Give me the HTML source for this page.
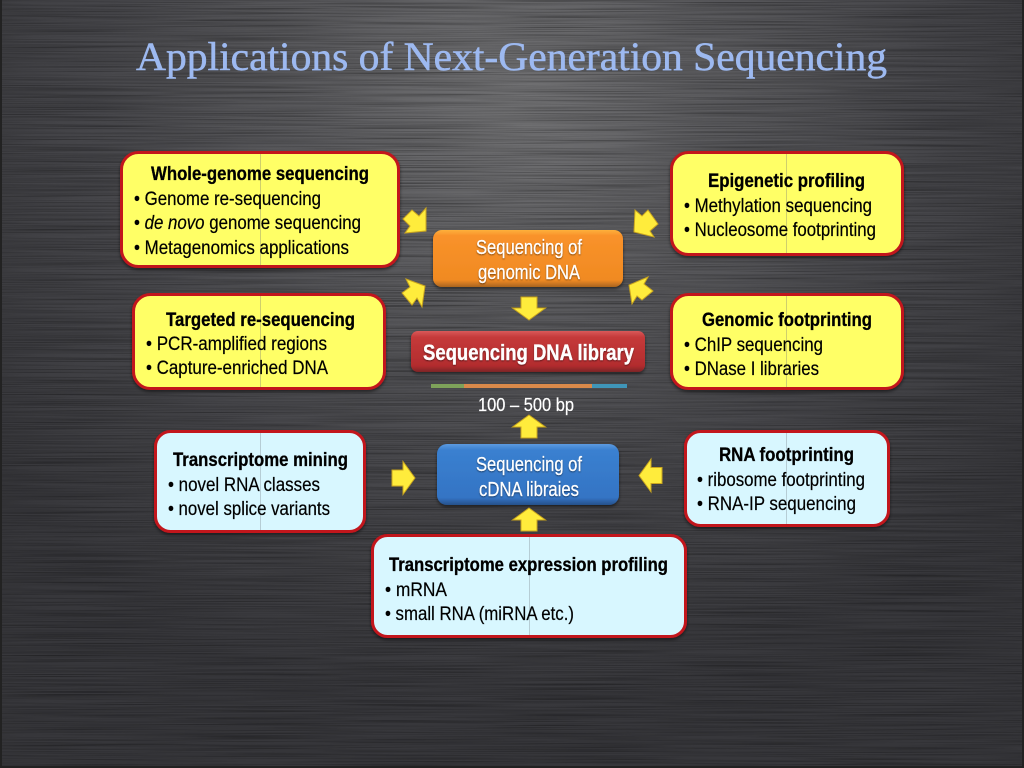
<!DOCTYPE html>
<html lang="en"><head><meta charset="utf-8"><title>Applications of Next-Generation Sequencing</title>
<style>html,body{margin:0;padding:0;background:#333}svg{display:block}
text{font-family:"Liberation Sans",sans-serif;fill:#000;font-size:19px;stroke:#000;stroke-width:.2}
.h{font-weight:bold;stroke-width:.3}
.w{fill:#fff;stroke:#fff;font-size:20px;filter:url(#ts)}
</style></head><body>
<svg xmlns="http://www.w3.org/2000/svg" width="1024" height="768" viewBox="0 0 1024 768">
<defs>
<radialGradient id="bg" gradientUnits="userSpaceOnUse" cx="512" cy="90" r="640" gradientTransform="translate(0 20) scale(1 .95)">
<stop offset="0" stop-color="#727274"/><stop offset=".3" stop-color="#5c5c5f"/><stop offset=".65" stop-color="#46464a"/><stop offset="1" stop-color="#37373b"/></radialGradient>
<filter id="streak" x="0" y="0" width="100%" height="100%"><feTurbulence type="fractalNoise" baseFrequency="0.006 1.1" numOctaves="2" seed="4"/><feColorMatrix values="0 0 0 0 0 0 0 0 0 0 0 0 0 0 0 2 0 0 0 -.8"/></filter>
<filter id="sh" x="-10%" y="-10%" width="120%" height="125%"><feDropShadow dx="0" dy="2" stdDeviation="1.5" flood-color="#000" flood-opacity=".5"/></filter>
<filter id="ts" x="-5%" y="-20%" width="110%" height="140%"><feDropShadow dx="0" dy="1" stdDeviation=".8" flood-color="#000" flood-opacity=".5"/></filter>
<linearGradient id="or" x1="0" y1="0" x2="0" y2="1"><stop offset="0" stop-color="#fdb03c"/><stop offset=".1" stop-color="#f9922a"/><stop offset=".88" stop-color="#f08a22"/><stop offset="1" stop-color="#a9641f"/></linearGradient>
<linearGradient id="rd" x1="0" y1="0" x2="0" y2="1"><stop offset="0" stop-color="#d9595a"/><stop offset=".15" stop-color="#c53a3a"/><stop offset=".85" stop-color="#b22c2e"/><stop offset="1" stop-color="#7c2527"/></linearGradient>
<linearGradient id="bl" x1="0" y1="0" x2="0" y2="1"><stop offset="0" stop-color="#5c9ae0"/><stop offset=".1" stop-color="#3a80d0"/><stop offset=".88" stop-color="#3474c4"/><stop offset="1" stop-color="#26508a"/></linearGradient>
<polygon id="a" points="0,-12 16.500,0 8,0 8,11 -8,11 -8,0 -16.500,0" fill="#ffec3c" stroke="#c9a51f" stroke-width="1"/>
</defs>

<rect width="1024" height="768" fill="url(#bg)"/>
<rect width="1024" height="768" filter="url(#streak)" opacity=".4"/>
<rect x="0" y="0" width="2" height="768" fill="#222"/><rect x="1022" y="0" width="2" height="768" fill="#222"/><rect x="0" y="766" width="1024" height="2" fill="#222"/>

<text x="136" y="70" textLength="751" lengthAdjust="spacingAndGlyphs" style="font-family:'Liberation Serif',serif;font-size:40px;fill:#9db9f0;stroke:#9db9f0;stroke-width:.5">Applications of Next-Generation Sequencing</text>

<!-- yellow boxes -->
<g fill="#ffff66" stroke="#c2141d" stroke-width="3" filter="url(#sh)">
<rect x="121.500" y="152.500" width="277" height="114" rx="17"/>
<rect x="133.500" y="294.500" width="251" height="94" rx="17"/>
<rect x="671.500" y="152.500" width="231" height="102" rx="17"/>
<rect x="671.500" y="294.500" width="231" height="94" rx="17"/>
</g>
<!-- light blue boxes -->
<g fill="#d8f7ff" stroke="#c2141d" stroke-width="3" filter="url(#sh)">
<rect x="155.500" y="431.500" width="209" height="100" rx="15"/>
<rect x="685.500" y="431.500" width="203" height="94" rx="15"/>
<rect x="372.500" y="535.500" width="313" height="101" rx="15"/>
</g>
<!-- faint seam lines -->
<g stroke="#b0b070" stroke-width="1" opacity=".6">
<line x1="260.500" y1="154" x2="260.500" y2="265"/><line x1="260.500" y1="296" x2="260.500" y2="387"/>
<line x1="786.500" y1="154" x2="786.500" y2="253"/><line x1="786.500" y1="296" x2="786.500" y2="387"/>
</g>
<g stroke="#a8bcc4" stroke-width="1" opacity=".7">
<line x1="260.500" y1="433" x2="260.500" y2="530"/><line x1="786.500" y1="433" x2="786.500" y2="524"/><line x1="529.500" y1="537" x2="529.500" y2="635"/>
</g>

<!-- center boxes -->
<rect x="433" y="230" width="190" height="57" rx="9" fill="url(#or)" filter="url(#sh)"/>
<rect x="411" y="331" width="234" height="41" rx="7" fill="url(#rd)" filter="url(#sh)"/>
<rect x="437" y="444" width="182" height="61" rx="10" fill="url(#bl)" filter="url(#sh)"/>
<rect x="431" y="384" width="33" height="4" fill="#7ea25a"/>
<rect x="464" y="384" width="128" height="4" fill="#d9894a"/>
<rect x="592" y="384" width="35" height="4" fill="#3f95b8"/>

<!-- arrows -->
<use href="#a" transform="translate(529 427)"/>
<use href="#a" transform="translate(529 520)"/>
<use href="#a" transform="translate(529 308) rotate(180)"/>
<use href="#a" transform="translate(403 478) rotate(90)"/>
<use href="#a" transform="translate(651 475.500) rotate(-90)"/>
<g fill="#ffec3c" stroke="#c9a51f" stroke-width="1">
<polygon points="426,208 426,231 405,233 410,226 403,219 412,210 419,216"/>
<polygon points="406,279 425,286 422,307 417,298 412,305 402,293 410,287"/>
<polygon points="635,210 642,216 648,210 658,224 650,231 654,237 634,232"/>
<polygon points="648,277 629,285 632,304 637,296 642,300 653,291 644,284"/>
</g>

<!-- box text -->
<text class="h" x="151" y="180" textLength="218" lengthAdjust="spacingAndGlyphs">Whole-genome sequencing</text>
<text x="134" y="205" textLength="187" lengthAdjust="spacingAndGlyphs">• Genome re-sequencing</text>
<text x="134" y="229" textLength="227" lengthAdjust="spacingAndGlyphs">• <tspan font-style="italic">de novo</tspan> genome sequencing</text>
<text x="134" y="254" textLength="215" lengthAdjust="spacingAndGlyphs">• Metagenomics applications</text>

<text class="h" x="166" y="326" textLength="189" lengthAdjust="spacingAndGlyphs">Targeted re-sequencing</text>
<text x="146" y="350" textLength="181" lengthAdjust="spacingAndGlyphs">• PCR-amplified regions</text>
<text x="146" y="374" textLength="182" lengthAdjust="spacingAndGlyphs">• Capture-enriched DNA</text>

<text class="h" x="708" y="187" textLength="157" lengthAdjust="spacingAndGlyphs">Epigenetic profiling</text>
<text x="684" y="212" textLength="188" lengthAdjust="spacingAndGlyphs">• Methylation sequencing</text>
<text x="684" y="236" textLength="192" lengthAdjust="spacingAndGlyphs">• Nucleosome footprinting</text>

<text class="h" x="702" y="326" textLength="170" lengthAdjust="spacingAndGlyphs">Genomic footprinting</text>
<text x="684" y="351" textLength="139" lengthAdjust="spacingAndGlyphs">• ChIP sequencing</text>
<text x="684" y="375" textLength="135" lengthAdjust="spacingAndGlyphs">• DNase I libraries</text>

<text class="h" x="173" y="466" textLength="175" lengthAdjust="spacingAndGlyphs">Transcriptome mining</text>
<text x="168" y="491" textLength="152" lengthAdjust="spacingAndGlyphs">• novel RNA classes</text>
<text x="168" y="515" textLength="162" lengthAdjust="spacingAndGlyphs">• novel splice variants</text>

<text class="h" x="719" y="461" textLength="135" lengthAdjust="spacingAndGlyphs">RNA footprinting</text>
<text x="697" y="486" textLength="168" lengthAdjust="spacingAndGlyphs">• ribosome footprinting</text>
<text x="697" y="510" textLength="159" lengthAdjust="spacingAndGlyphs">• RNA-IP sequencing</text>

<text class="h" x="389" y="571" textLength="279" lengthAdjust="spacingAndGlyphs">Transcriptome expression profiling</text>
<text x="385" y="596" textLength="62" lengthAdjust="spacingAndGlyphs">• mRNA</text>
<text x="385" y="620" textLength="189" lengthAdjust="spacingAndGlyphs">• small RNA (miRNA etc.)</text>

<!-- center text -->
<text class="w" x="476" y="254" textLength="106" lengthAdjust="spacingAndGlyphs">Sequencing of</text>
<text class="w" x="478" y="279" textLength="102" lengthAdjust="spacingAndGlyphs">genomic DNA</text>
<text class="w h" x="423" y="360" textLength="211" lengthAdjust="spacingAndGlyphs" style="font-size:22px">Sequencing DNA library</text>
<text x="478" y="411" textLength="96" lengthAdjust="spacingAndGlyphs" style="fill:#fff;stroke:#fff;font-size:18px">100 – 500 bp</text>
<text class="w" x="476" y="471" textLength="106" lengthAdjust="spacingAndGlyphs">Sequencing of</text>
<text class="w" x="479" y="496" textLength="100" lengthAdjust="spacingAndGlyphs">cDNA libraies</text>
</svg>
</body></html>
